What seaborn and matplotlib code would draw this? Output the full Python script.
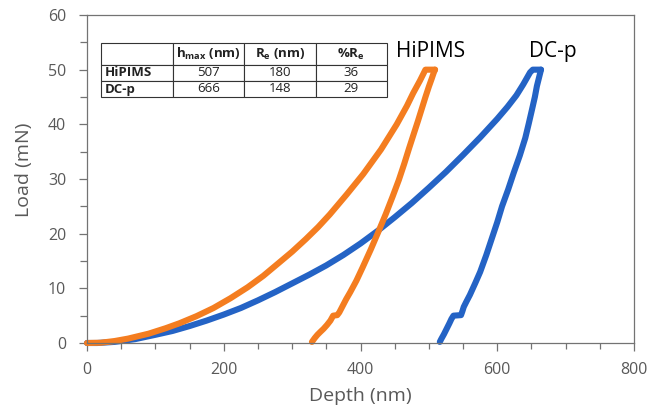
import matplotlib
matplotlib.use("Agg")
import matplotlib.pyplot as plt
from matplotlib.ticker import MultipleLocator
import pandas as pd
import seaborn as sns

# Nanoindentation load–depth curves (loading and unloading branches)
hip_load_depth = [0, 20, 40, 60, 90, 115, 135, 160, 185, 210, 235, 258, 280, 300, 320, 338,
                  355, 380, 404, 430, 453, 468, 477, 487, 495, 509]
hip_load_force = [0, 0.05, 0.35, 0.8, 1.7, 2.7, 3.6, 4.9, 6.4, 8.2, 10.2, 12.3, 14.6, 16.7, 19.0, 21.2,
                  23.5, 27.2, 30.9, 35.4, 40.0, 43.4, 45.7, 48.0, 50.0, 50.0]
hip_unload_depth = [509, 507, 504, 500, 495, 490, 484, 478, 471, 464, 456, 447, 437, 426, 415,
                    403, 394, 385, 379, 374, 369, 366, 360, 356, 351, 346, 341, 337, 333, 329]
hip_unload_force = [50.0, 49.4, 48.3, 46.9, 45.0, 43.0, 40.6, 38.3, 35.6, 32.8, 29.8, 26.8, 23.6, 20.3, 17.1,
                    13.8, 11.4, 9.3, 8.0, 6.8, 5.6, 5.1, 5.0, 4.1, 3.3, 2.6, 2.0, 1.5, 0.9, 0.2]

dc_load_depth = [0, 15, 40, 70, 100, 125, 150, 175, 200, 225, 250, 275, 300, 325, 350, 375, 400,
                 426, 450, 475, 500, 525, 550, 575, 600, 615, 628, 638, 648, 652, 664]
dc_load_force = [0, 0.0, 0.2, 0.7, 1.5, 2.2, 3.1, 4.1, 5.2, 6.4, 7.8, 9.3, 10.9, 12.5, 14.2, 16.1, 18.2,
                 20.6, 23.0, 25.6, 28.4, 31.3, 34.4, 37.6, 41.0, 43.2, 45.3, 47.3, 49.5, 50.0, 50.0]
dc_unload_depth = [664, 663, 661, 658, 655, 651, 646, 641, 633, 624, 616, 607, 600, 592, 584, 575,
                   568, 560, 555, 551, 549, 547, 536, 533, 530, 526, 522, 518, 516]
dc_unload_force = [50.0, 49.5, 48.5, 47.0, 45.0, 42.8, 40.1, 37.5, 34.3, 31.1, 28.1, 25.0, 22.1, 19.1, 16.1, 13.0,
                   11.0, 8.8, 7.6, 6.6, 5.8, 5.1, 5.0, 4.4, 3.6, 2.6, 1.6, 0.7, 0.2]

samples = ["DC-p", "HiPIMS"]
colors = {"HiPIMS": "#F47D20", "DC-p": "#2463C5"}

# Summary table
table_header = ["", r"$\mathbf{h_{max}}$ (nm)", r"$\mathbf{R_e}$ (nm)", r"$\mathbf{\%R_e}$"]
table_rows = [
    ["HiPIMS", "507", "180", "36"],
    ["DC-p", "666", "148", "29"],
]

branches = [
    ("DC-p", "DC-p load", dc_load_depth, dc_load_force),
    ("DC-p", "DC-p unload", dc_unload_depth, dc_unload_force),
    ("HiPIMS", "HiPIMS load", hip_load_depth, hip_load_force),
    ("HiPIMS", "HiPIMS unload", hip_unload_depth, hip_unload_force),
]
frames = []
for sample, branch, d, f in branches:
    frames.append(pd.DataFrame({"Depth": d, "Load": f, "sample": sample, "branch": branch}))
df = pd.concat(frames, ignore_index=True)

sns.set_theme(style="ticks")
plt.rcParams["font.family"] = ["Open Sans", "DejaVu Sans"]
plt.rcParams["mathtext.fontset"] = "custom"
plt.rcParams["mathtext.rm"] = "Open Sans"
plt.rcParams["mathtext.bf"] = "Open Sans:bold"
plt.rcParams["mathtext.it"] = "Open Sans:italic"

grey_text = "#595959"
grey_axis = "#737373"

fig = plt.figure(figsize=(6.52, 4.18), dpi=100)
ax = fig.add_axes([87 / 652, 1 - 343 / 418, 547 / 652, 328 / 418])

sns.lineplot(
    data=df, x="Depth", y="Load", hue="sample", hue_order=samples,
    units="branch", estimator=None, sort=False, palette=colors,
    linewidth=4.4, legend=False, ax=ax,
    solid_capstyle="round", solid_joinstyle="round", clip_on=False,
)

ax.set_xlim(0, 800)
ax.set_ylim(0, 60)
ax.xaxis.set_major_locator(MultipleLocator(200))
ax.xaxis.set_minor_locator(MultipleLocator(50))
ax.yaxis.set_major_locator(MultipleLocator(10))
ax.yaxis.set_minor_locator(MultipleLocator(5))

for s in ax.spines.values():
    s.set_color(grey_axis)
    s.set_linewidth(0.9)
    s.set_visible(True)

ax.tick_params(axis="both", which="both", direction="out", color=grey_axis, width=0.9)
ax.tick_params(axis="x", which="major", length=6, pad=8, labelsize=11.5, labelcolor=grey_text)
ax.tick_params(axis="x", which="minor", length=4)
ax.tick_params(axis="y", which="major", length=6, pad=9, labelsize=11.5, labelcolor=grey_text)
ax.tick_params(axis="y", which="minor", length=5)

ax.set_xlabel("Depth (nm)", fontsize=14, color=grey_text)
ax.set_ylabel("Load (mN)", fontsize=14, color=grey_text)
ax.xaxis.set_label_coords(0.5, -0.135)
ax.yaxis.set_label_coords(-0.099, 0.527)

ax.text(452, 52.3, "HiPIMS", fontsize=15, color="black", va="baseline", ha="left")
ax.text(646.5, 52.3, "DC-p", fontsize=15, color="black", va="baseline", ha="left")

# Table in the upper-left corner of the plot area
x0 = (101 - 87) / 547
x1 = (387 - 87) / 547
y0 = (343 - 97) / 328
y1 = (343 - 43) / 328
tbl = ax.table(cellText=[table_header] + table_rows, cellLoc="center",
               bbox=[x0, y0, x1 - x0, y1 - y0])
tbl.auto_set_font_size(False)
tbl.set_fontsize(9.5)
for (r, c), cell in tbl.get_celld().items():
    cell.set_edgecolor("#333333")
    cell.set_linewidth(0.8)
    cell.set_facecolor("white")
    if r == 0:
        cell.set_height(cell.get_height() * 22 / 16)
    txt = cell.get_text()
    txt.set_color("#222222")
    if r == 0 or c == 0:
        txt.set_fontweight("bold")
    if c == 0:
        cell.set_text_props(ha="left")
        cell.PAD = 0.05

fig.savefig("out.png", dpi=100)
